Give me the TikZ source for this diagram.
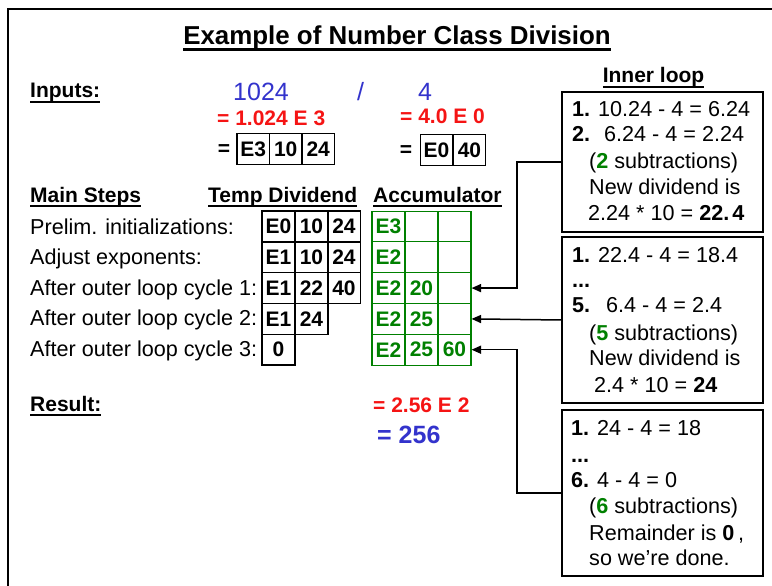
\documentclass[tikz,border=0pt]{standalone}
\usepackage{fontspec}
\setmainfont{Liberation Sans}
\usetikzlibrary{arrows.meta}
\definecolor{myblue}{RGB}{51,51,204}
\definecolor{myred}{RGB}{245,20,20}
\definecolor{mygreen}{RGB}{0,128,0}
\newcommand{\fsz}[1]{\fontsize{#1}{#1}\selectfont}
\newcommand{\ulx}[1]{\setbox0\hbox{#1}\rlap{\rule[-0.22em]{\wd0}{0.1em}}\box0}
\tikzset{
  lbl/.style={inner sep=0, anchor=base west, font=\fsz{21.6}},
  blbl/.style={inner sep=0, anchor=base west, font=\fsz{21}\bfseries},
  bignum/.style={inner sep=0, font=\fsz{25}, text=myblue},
  tcell/.style={draw=black, line width=1.3pt, minimum width=33pt, minimum height=30.8pt, inner sep=0, font=\fsz{21}\bfseries},
  acell/.style={draw=mygreen, line width=1.1pt, minimum width=33pt, minimum height=30.8pt, inner sep=0, font=\fsz{21}\bfseries, text=mygreen},
  icell/.style={draw=black, line width=1.3pt, minimum width=32.5pt, minimum height=31pt, inner sep=0, font=\fsz{21}\bfseries},
  ibox/.style={draw=black, line width=1.4pt, minimum width=201pt, inner sep=0},
  conn/.style={line width=1.5pt, -{Triangle[length=9.5pt,width=8pt]}},
}
\begin{document}
\begin{tikzpicture}[x=1pt,y=-1pt]
\useasboundingbox (0,0) rectangle (772,586);
% frame
\draw[line width=2pt] (8,586) -- (8,9) -- (772,9);
% title
\node[inner sep=0, anchor=base, font=\fsz{25.9}\bfseries] (title) at (397,45) {\ulx{Example of Number Class Division}};
% inputs
\node[blbl] (inputs) at (30,98) {\ulx{Inputs:}};
\node[bignum, anchor=base west] (n1024) at (233,100) {1024};
\node[bignum, anchor=base] (slash) at (360.5,100) {/};
\node[bignum, anchor=base west] (n4) at (418,100) {4};
\node[blbl, text=myred] (r1) at (217,125) {= 1.024 E 3};
\node[blbl, text=myred] (r2) at (400,124) {= 4.0 E 0};
\node[inner sep=0, anchor=base, font=\fsz{21}\bfseries] (eq1) at (224,156) {=};
\node[icell] (i11) at (253.25,149) {E3};
\node[icell] (i12) at (285.75,149) {10};
\node[icell] (i13) at (318.25,149) {24};
\node[inner sep=0, anchor=base, font=\fsz{21}\bfseries] (eq2) at (406,157) {=};
\node[icell] (i21) at (436.5,150) {E0};
\node[icell] (i22) at (469.5,150) {40};
% headers
\node[blbl] (mainsteps) at (30,202) {\ulx{Main Steps}};
\node[blbl] (tempdiv) at (208,202) {\ulx{Temp Dividend}};
\node[blbl] (accum) at (373,202) {\ulx{Accumulator}};
% row labels
\node[lbl] (s1) at (30,234) {Prelim. initializations:};
\node[lbl] (s2) at (30,264.5) {Adjust exponents:};
\node[lbl] (s3) at (30,295) {After outer loop cycle 1:};
\node[lbl] (s4) at (30,325.5) {After outer loop cycle 2:};
\node[lbl] (s5) at (30,356.5) {After outer loop cycle 3:};
% temp dividend grid
\node[tcell] (t11) at (278.5,226.5) {E0};
\node[tcell] (t12) at (311.5,226.5) {10};
\node[tcell] (t13) at (344,226.5) {24};
\node[tcell] (t21) at (278.5,257.3) {E1};
\node[tcell] (t22) at (311.5,257.3) {10};
\node[tcell] (t23) at (344,257.3) {24};
\node[tcell] (t31) at (278.5,288.1) {E1};
\node[tcell] (t32) at (311.5,288.1) {22};
\node[tcell] (t33) at (344,288.1) {40};
\node[tcell] (t41) at (278.5,318.9) {E1};
\node[tcell] (t42) at (311.5,318.9) {24};
\node[tcell] (t51) at (278.5,349.7) {0};
% accumulator grid
\node[acell] (a11) at (388.5,226.5) {E3};
\node[acell] (a12) at (421.5,226.5) {};
\node[acell] (a13) at (454.5,226.5) {};
\node[acell] (a21) at (388.5,257.3) {E2};
\node[acell] (a22) at (421.5,257.3) {};
\node[acell] (a23) at (454.5,257.3) {};
\node[acell] (a31) at (388.5,288.1) {E2};
\node[acell] (a32) at (421.5,288.1) {20};
\node[acell] (a33) at (454.5,288.1) {};
\node[acell] (a41) at (388.5,318.9) {E2};
\node[acell] (a42) at (421.5,318.9) {25};
\node[acell] (a43) at (454.5,318.9) {};
\node[acell] (a51) at (388.5,349.7) {E2};
\node[acell] (a52) at (421.5,349.7) {25};
\node[acell] (a53) at (454.5,349.7) {60};
% result
\node[blbl] (result) at (30,411) {\ulx{Result:}};
\node[blbl, text=myred] (res1) at (373,412) {= 2.56 E 2};
\node[inner sep=0, anchor=base west, font=\fsz{25}\bfseries, text=myblue] (res2) at (377,443) {= 256};
% inner loop
\node[inner sep=0, anchor=base, font=\fsz{21}\bfseries] (inner) at (653.5,83) {\ulx{Inner loop}};
\node[ibox, minimum height=140pt] (box1) at (662.5,162) {};
\node[ibox, minimum height=166pt] (box2) at (662.5,320) {};
\node[ibox, minimum height=166pt] (box3) at (662.5,493) {};
% box 1 text
\node[lbl] (b1l1) at (572,117) {\textbf{1.} 10.24 - 4 = 6.24};
\node[lbl] (b1l2) at (572,142) {\makebox[32pt][l]{\textbf{2.}}6.24 - 4 = 2.24};
\node[lbl] (b1l3) at (589,168) {(\textcolor{mygreen}{\textbf{2}} subtractions)};
\node[lbl] (b1l4) at (589,194) {New dividend is};
\node[lbl] (b1l5) at (588,220) {2.24 * 10 = \textbf{22.\hspace{3pt}4}};
% box 2 text
\node[lbl] (b2l1) at (572,262) {\textbf{1.} 22.4 - 4 = 18.4};
\node[lbl] (b2l2) at (572,287) {\textbf{...}};
\node[lbl] (b2l3) at (572,312) {\makebox[34pt][l]{\textbf{5.}}6.4 - 4 = 2.4};
\node[lbl] (b2l4) at (589,340) {(\textcolor{mygreen}{\textbf{5}} subtractions)};
\node[lbl] (b2l5) at (589,365) {New dividend is};
\node[lbl] (b2l6) at (594,392) {2.4 * 10 = \textbf{24}};
% box 3 text
\node[lbl] (b3l1) at (571,435) {\textbf{1.} 24 - 4 = 18};
\node[lbl] (b3l2) at (571,462) {\textbf{...}};
\node[lbl] (b3l3) at (571,487) {\textbf{6.} 4 - 4 = 0};
\node[lbl] (b3l4) at (589,513) {(\textcolor{mygreen}{\textbf{6}} subtractions)};
\node[lbl] (b3l5) at (589,540) {Remainder is \textbf{0}\,,};
\node[lbl] (b3l6) at (589,565) {so we're done.};
% connectors
\coordinate (jx) at (517,0);
\draw[conn] (box1.west) -| (jx |- a33.east) -- (a33.east);
\draw[conn] (box2.west) -- (a43.east);
\draw[conn] (box3.west) -| (jx |- a53.east) -- (a53.east);
\end{tikzpicture}
\end{document}
